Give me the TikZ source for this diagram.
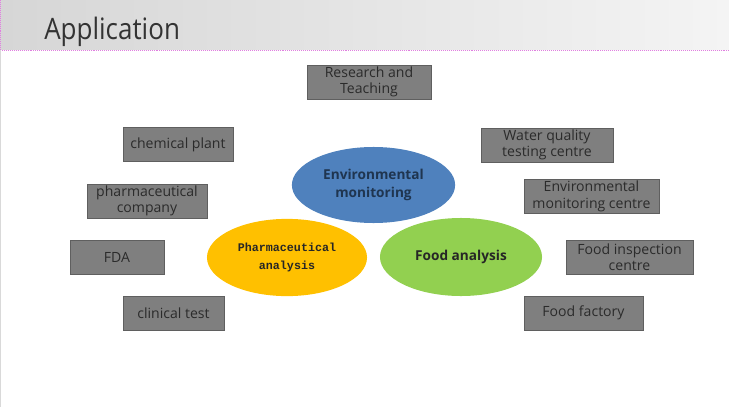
\documentclass[tikz,border=0pt]{standalone}
\usepackage{fontspec}
\setmainfont{Open Sans}
\newfontfamily\monofont{Liberation Mono}
\usepackage{xcolor}
\usetikzlibrary{positioning,shapes.geometric}
\definecolor{boxgray}{HTML}{7F7F7F}
\definecolor{boxline}{HTML}{5F5F5F}
\definecolor{boxtext}{HTML}{2B2B2B}
\definecolor{envblue}{HTML}{4F81BD}
\definecolor{envtext}{HTML}{1F3550}
\definecolor{pharmyellow}{HTML}{FFC000}
\definecolor{foodgreen}{HTML}{92D050}
\definecolor{barleft}{HTML}{D6D6D6}
\definecolor{barright}{HTML}{F4F4F4}
\definecolor{pinkline}{HTML}{E07FE0}

\begin{document}
\begin{tikzpicture}[
  x=0.025cm, y=-0.025cm,
  place/.style={draw=boxline, fill=boxgray, minimum height=0.85cm,
                align=center, inner sep=0pt, text=boxtext,
                font=\fontsize{10}{11.6}\selectfont},
  field/.style={ellipse, inner sep=0pt, align=center,
                font=\bfseries\fontsize{9.7}{12.2}\selectfont},
]
\useasboundingbox (0,0) rectangle (729,407);
% title bar
\shade[left color=barleft, right color=barright] (0,0) rectangle (729,50);
\draw[pinkline, densely dotted] (0,50) -- (729,50);
\draw[pinkline, densely dotted] (0.5,0) -- (0.5,50);
\draw[black!15] (0.5,50) -- (0.5,407);
\node[anchor=base west, inner sep=0pt, text=black!80,
      font=\fontsize{21}{24}\selectfont] (title) at (44,40)
  {\scalebox{0.88}[1]{Application}};

% the three fields
\node[field, fill=envblue, text=envtext, minimum width=4.08cm,
      minimum height=1.9cm] (env) at (373.5,185) {Environmental\\monitoring};
\node[field, fill=pharmyellow, text=black!85, minimum width=4cm,
      minimum height=1.93cm, font=\monofont\bfseries\fontsize{8.3}{12.2}\selectfont]
  (pharm) at (287,257.5) {Pharmaceutical\\analysis};
\node[field, fill=foodgreen, text=black!85, minimum width=4.05cm,
      minimum height=1.95cm] (food) at (461,257) {Food analysis};

% where they are applied
\node[place, minimum width=3.1cm] (research) at (369,82) {Research and\\Teaching};
\node[place, minimum width=2.75cm] (chem) at (178,144.5) {chemical plant};
\node[place, minimum width=3cm] (company) at (147,201) {pharmaceutical\\company};
\node[place, minimum width=2.35cm] (fda) at (117,257) {FDA};
\node[place, minimum width=2.53cm] (clinical) at (173.5,313) {clinical test};
\node[place, minimum width=3.3cm] (water) at (547,145) {Water quality\\testing centre};
\node[place, minimum width=3.38cm] (envcentre) at (591.5,196.5) {Environmental\\monitoring centre};
\node[place, minimum width=3.18cm] (inspect) at (629.5,257) {Food inspection\\centre};
\node[place, minimum width=2.98cm] (factory) at (583.5,313) {Food factory};
\end{tikzpicture}
\end{document}
